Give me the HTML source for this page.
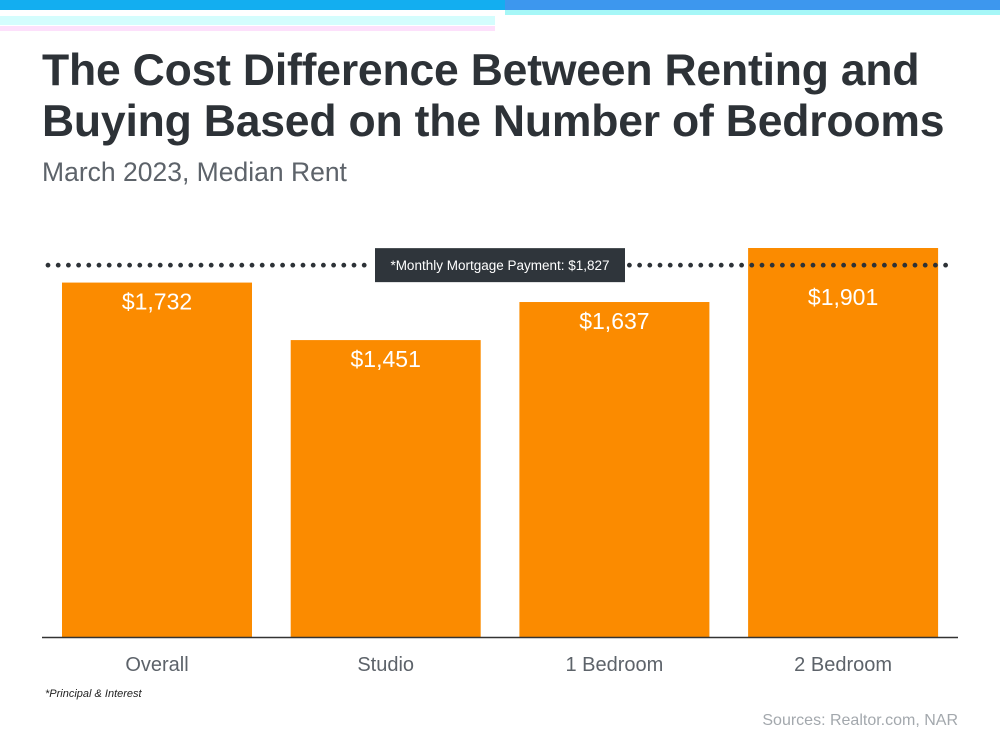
<!DOCTYPE html>
<html><head><meta charset="utf-8"><style>
body{margin:0;width:1000px;height:750px;background:#fff;overflow:hidden;font-family:"Liberation Sans",Arial,sans-serif;position:relative}
.t{position:absolute;left:42px;color:#2d3237;font-weight:bold;font-size:44.5px;line-height:51px;letter-spacing:-0.2px;white-space:nowrap}
</style></head><body>
<div style="position:absolute;left:0;top:0;width:505px;height:10px;background:#13aef0"></div>
<div style="position:absolute;left:505px;top:0;width:495px;height:10px;background:#3d97ee"></div>
<div style="position:absolute;left:505px;top:10px;width:495px;height:5px;background:#a6f7f7"></div>
<div style="position:absolute;left:0;top:16px;width:495px;height:9px;background:#d4fdfd"></div>
<div style="position:absolute;left:0;top:26px;width:495px;height:5px;background:#fde0fb"></div>
<div class="t" style="top:45px">The Cost Difference Between Renting and<br>Buying Based on the Number of Bedrooms</div>
<div style="position:absolute;left:42px;top:157px;font-size:26.5px;color:#5d636a">March 2023, Median Rent</div>
<svg id="c" width="1000" height="750" style="position:absolute;left:0;top:0"></svg>
<div style="position:absolute;left:45px;top:688px;font-size:11px;font-style:italic;color:#222">*Principal &amp; Interest</div>
<div style="position:absolute;right:42px;top:712px;font-size:16px;color:#a3a8ad">Sources: Realtor.com, NAR</div>
<script>
const categories=["Overall","Studio","1 Bedroom","2 Bedroom"];
const rents=[1732,1451,1637,1901];
const valueLabels=["$1,732","$1,451","$1,637","$1,901"];
const mortgage=[1827];
const mortgageLabel=["*Monthly Mortgage Payment: $1,827"];
const NS="http://www.w3.org/2000/svg",svg=document.getElementById('c');
const base=637,k=389/1901;
const y=v=>base-v*k;
const x=i=>62+i*228.7;
const bw=190;
function mk(t,a){const e=document.createElementNS(NS,t);for(const n in a)e.setAttribute(n,a[n]);svg.appendChild(e);return e;}
const my=y(mortgage[0])+2;
rents.forEach((v,i)=>{
 const r=mk('rect',{x:x(i),y:y(v),width:bw,height:base-y(v),fill:'#fb8b00'});
 
 
});
for(let px=48;px<=952;px+=10.2){
 if(px>372&&px<628)continue;
 const d=mk('circle',{cx:px,cy:my,r:2.4,fill:'#2d3237'});
 
 
}
rents.forEach((v,i)=>{
 const ly=Math.max(y(v)+27,my+40);
 const t=mk('text',{x:x(i)+bw/2,y:ly,'text-anchor':'middle',fill:'#fff','font-size':23,'font-family':'Liberation Sans, sans-serif'});
 t.textContent=valueLabels[i];
 
 
 const c=mk('text',{x:x(i)+bw/2,y:671,'text-anchor':'middle',fill:'#5d636a','font-size':20,'font-family':'Liberation Sans, sans-serif'});
 c.textContent=categories[i];
 
 
});
const ax=mk('line',{x1:42,x2:958,y1:base+0.5,y2:base+0.5,stroke:'#333','stroke-width':1.5});


const box=mk('rect',{x:375,y:my-17,width:250,height:34,fill:'#2f353b'});


const lt=mk('text',{x:500,y:my+5,'text-anchor':'middle',fill:'#fff','font-size':13.5,'font-family':'Liberation Sans, sans-serif'});
lt.textContent=mortgageLabel[0];


</script>
</body></html>
